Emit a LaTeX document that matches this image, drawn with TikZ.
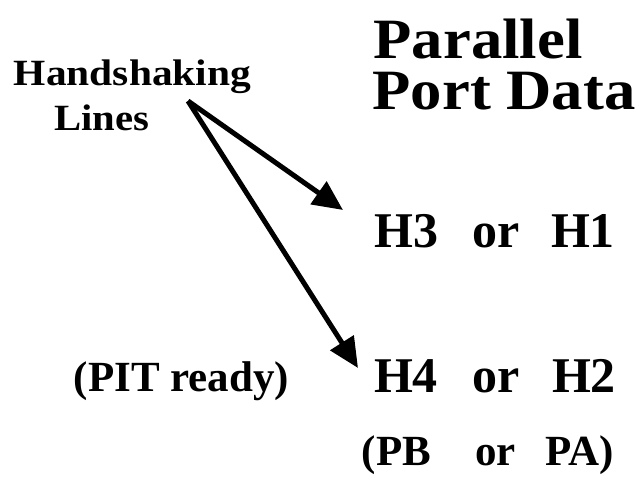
\documentclass[tikz,border=0pt]{standalone}
\usepackage{fontspec}
\setmainfont{Liberation Serif}
\usetikzlibrary{arrows.meta}
\begin{document}
\begin{tikzpicture}[x=1pt,y=1pt,
  lbl/.style={inner sep=0pt,anchor=base,font=\bfseries},
  bigtxt/.style={lbl,font=\bfseries\fontsize{57}{57}\selectfont},
  midtxt/.style={lbl,font=\bfseries\fontsize{37}{37}\selectfont},
  htxt/.style={lbl,font=\bfseries\fontsize{50}{50}\selectfont},
  ptxt/.style={lbl,font=\bfseries\fontsize{43}{43}\selectfont},
  arr/.style={line width=5pt,-{Triangle[length=30pt,width=27pt]}}]
\useasboundingbox (0,0) rectangle (641,-477);
\node[bigtxt] (par) at (478,-58) {\scalebox{1.1}[1]{Parallel}};
\node[bigtxt] (port) at (504,-109) {\scalebox{1.1}[1]{Port Data}};
\node[midtxt] (hand) at (132.5,-85) {\scalebox{1.12}[1]{Handshaking}};
\node[midtxt] (lines) at (102,-130) {\scalebox{1.1}[1]{Lines}};
\node[htxt] (h3) at (406.5,-247) {H3};
\node[htxt] (or1) at (496,-247) {or};
\node[htxt] (h1) at (583,-247) {H1};
\node[htxt] (h4) at (406,-392) {H4};
\node[htxt] (or2) at (496,-392) {or};
\node[htxt] (h2) at (584,-392) {H2};
\node[ptxt] (pit) at (181.5,-391) {(PIT ready)};
\node[ptxt] (pb) at (396.5,-465) {(PB};
\node[ptxt] (or3) at (495.5,-465) {or};
\node[ptxt] (pa) at (579.5,-465) {PA)};
\coordinate (src) at (188,-101);
\coordinate (t1) at (343,-210);
\coordinate (t2) at (358,-368);
\draw[arr] (src) -- (t1);
\draw[arr] (src) -- (t2);
\end{tikzpicture}
\end{document}
